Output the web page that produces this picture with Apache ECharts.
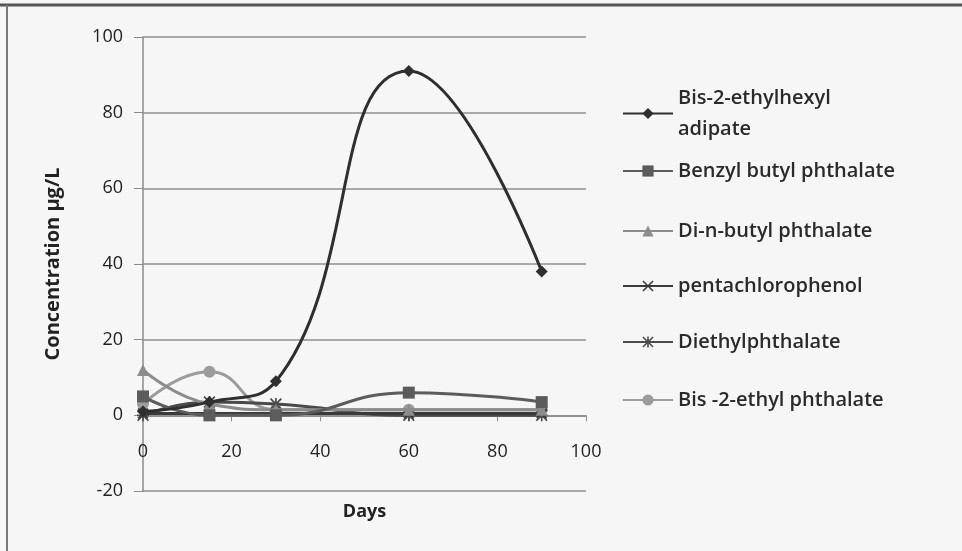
<!DOCTYPE html>
<html>
<head>
<meta charset="utf-8">
<script src="https://cdn.jsdelivr.net/npm/echarts@6/dist/echarts.min.js"></script>
<style>
  html, body { margin: 0; padding: 0; background: #f6f6f6; }
  #chart { width: 962px; height: 551px; }
</style>
</head>
<body>
<div id="chart"></div>
<script>
// sampling days
const days = [0, 15, 30, 60, 90];

// concentrations (µg/L)
const bisEthylhexylAdipate = [1, 3.5, 9, 91, 38];
const benzylButyl = [5, 0, 0, 6, 3.5];
const diNButyl = [12, 3, 1.5, 1.5, 1.5];
const pentachlorophenol = [0.5, 0.5, 0.5, 0.5, 0.5];
const diethyl = [0, 3.5, 3, 0, 0];
const bisEthylPhthalate = [3, 11.5, 1.5, 1.5, 1.5];

const seriesNames = [
    'Bis-2-ethylhexyl adipate',
    'Benzyl butyl phthalate',
    'Di-n-butyl phthalate',
    'pentachlorophenol',
    'Diethylphthalate',
    'Bis -2-ethyl phthalate',
];
const seriesValues = [bisEthylhexylAdipate, benzylButyl, diNButyl, pentachlorophenol, diethyl, bisEthylPhthalate];

const yTicks = [-20, 0, 20, 40, 60, 80, 100];
const xTicks = [0, 20, 40, 60, 80, 100];

const X_MARK = 'path://M1,0 L5,4 L9,0 L10,1 L6,5 L10,9 L9,10 L5,6 L1,10 L0,9 L4,5 L0,1 Z';
const STAR_MARK = 'path://M4.3,0 L5.7,0 L5.7,4.3 L10,4.3 L10,5.7 L5.7,5.7 L5.7,10 L4.3,10 L4.3,5.7 L0,5.7 L0,4.3 L4.3,4.3 Z M1,0 L5,4 L9,0 L10,1 L6,5 L10,9 L9,10 L5,6 L1,10 L0,9 L4,5 L0,1 Z';

const styles = [
    { color: '#2f2f2f', symbol: 'diamond', size: 12 },
    { color: '#5c5c5c', symbol: 'rect', size: 12 },
    { color: '#8c8c8c', symbol: 'triangle', size: 12 },
    { color: '#3a3a3a', symbol: X_MARK, size: 11 },
    { color: '#4a4a4a', symbol: STAR_MARK, size: 12 },
    { color: '#9c9c9c', symbol: 'circle', size: 12 },
];

const font = '"Open Sans", Lato, sans-serif';

const chart = echarts.init(document.getElementById('chart'), null, { renderer: 'canvas' });

const legendCenters = [113, 171, 231, 286, 342, 400];
const legends = seriesNames.map((name, i) => {
    const first = i === 0;
    return {
        data: [name],
        orient: 'vertical',
        left: 622,
        top: first ? legendCenters[i] - 46 : legendCenters[i] - 11,
        padding: 0,
        itemWidth: 50,
        itemHeight: 14,
        itemGap: 0,
        selectedMode: false,
        formatter: first ? () => 'Bis-2-ethylhexyl\nadipate' : '{name}',
        textStyle: {
            fontFamily: font,
            fontSize: 20,
            fontWeight: 600,
            color: '#2a2a2a',
            lineHeight: first ? 31 : 22,
            padding: first ? [31, 0, 0, 0] : [0, 0, 0, 0],
        },
    };
});

const option = {
    backgroundColor: '#f6f6f6',
    animation: false,
    grid: { left: 143, right: 376, top: 37, bottom: 60, containLabel: false, outerBoundsMode: 'none' },
    legend: legends,
    xAxis: {
        type: 'value',
        min: 0,
        max: 100,
        interval: 20,
        name: 'Days',
        nameLocation: 'middle',
        nameGap: 12,
        nameMoveOverlap: false,
        nameTextStyle: { fontFamily: font, fontSize: 18, fontWeight: 'bold', color: '#222' },
        axisLine: { onZero: true, lineStyle: { color: '#8a8a8a', width: 1.5 } },
        axisTick: { show: true, length: 6, lineStyle: { color: '#8a8a8a' } },
        axisLabel: {
            margin: -48,
            fontFamily: font,
            fontSize: 18,
            color: '#222',
            formatter: (v) => (xTicks.includes(v) ? String(v) : ''),
        },
        splitLine: { show: false },
    },
    yAxis: {
        type: 'value',
        min: -20,
        max: 100,
        interval: 20,
        name: 'Concentration µg/L',
        nameLocation: 'middle',
        nameGap: 80,
        nameRotate: 90,
        nameTextStyle: { fontFamily: font, fontSize: 20, fontWeight: 'bold', color: '#222' },
        axisLine: { show: true, lineStyle: { color: '#8a8a8a', width: 1.5 } },
        axisTick: { show: true, length: 9, lineStyle: { color: '#8a8a8a' } },
        axisLabel: {
            margin: 20,
            fontFamily: font,
            fontSize: 18,
            color: '#222',
            formatter: (v) => (yTicks.includes(v) ? String(v) : ''),
        },
        splitLine: { show: true, lineStyle: { color: '#8f8f8f', width: 1.5 } },
    },
    series: seriesNames.map((name, i) => ({
        name,
        type: 'line',
        smooth: 0.5,
        data: days.map((d, j) => [d, seriesValues[i][j]]),
        symbol: styles[i].symbol,
        symbolSize: styles[i].size,
        showAllSymbol: true,
        lineStyle: { color: styles[i].color, width: 3 },
        itemStyle: { color: styles[i].color, borderWidth: 0 },
        z: 10 - i,
    })),
    graphic: [
        { type: 'line', shape: { x1: 0, y1: 5, x2: 962, y2: 5 }, style: { stroke: '#555', lineWidth: 3 } },
        { type: 'line', shape: { x1: 7, y1: 5, x2: 7, y2: 551 }, style: { stroke: '#777', lineWidth: 2 } },
    ],
};

chart.setOption(option);

const resizeObserver = new ResizeObserver(() => chart.resize());
resizeObserver.observe(document.getElementById('chart'));
</script>
</body>
</html>
